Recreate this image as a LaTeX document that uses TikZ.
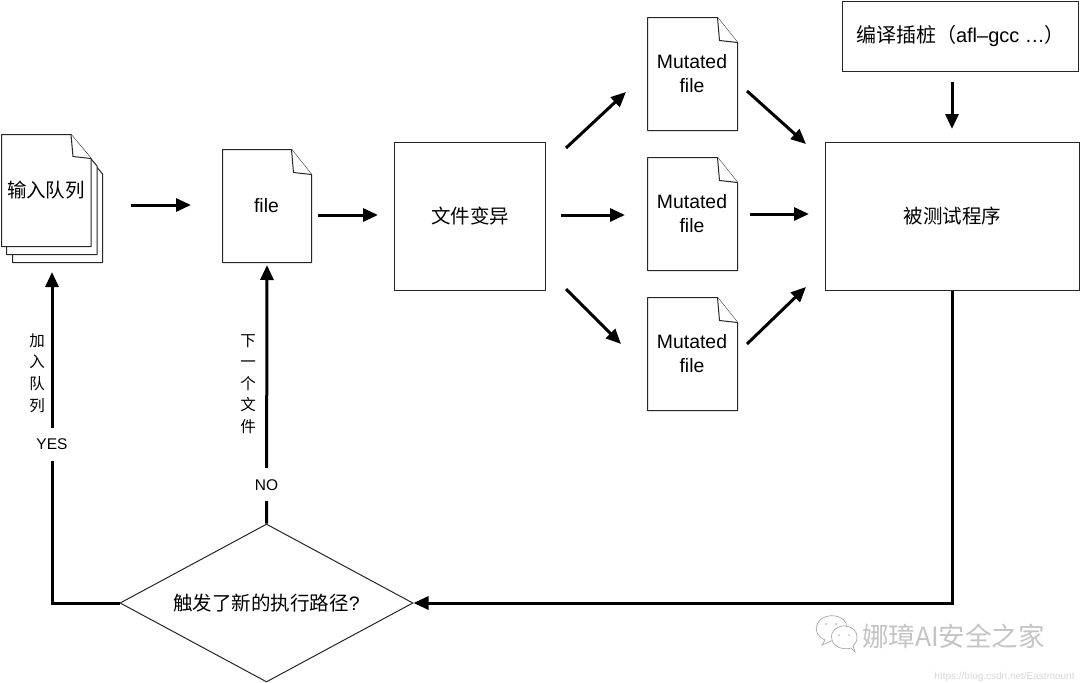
\documentclass[tikz,border=0pt]{standalone}
\usepackage{fontspec}
\setmainfont{Liberation Sans}
\newfontfamily\cjkf{Noto Sans CJK SC}
\usetikzlibrary{arrows.meta,shapes.geometric}
\definecolor{ink}{HTML}{262626}
\definecolor{wm}{HTML}{C4C4C4}
\tikzset{
  boxnode/.style={draw=ink,line width=1pt,fill=white,rectangle,inner sep=0pt,font=\fontsize{19.5}{23}\selectfont\cjkf,align=center},
  docnode/.style={rectangle,inner sep=0pt,font=\fontsize{19.4}{24}\selectfont,align=center},
  docline/.style={draw=ink,line width=1pt,line join=round,fill=white},
  flow/.style={line width=3pt,draw=black,-{Triangle[length=15pt,width=13pt]},shorten >=0pt},
  sidetext/.style={inner sep=0pt,font=\fontsize{15.5}{21.6}\selectfont\cjkf,align=center},
  gatelabel/.style={fill=white,inner sep=0pt,minimum height=33pt,minimum width=38pt,font=\fontsize{15.5}{18}\selectfont},
}
% x0 y0 x1 y1 fold-width fold-height
\newcommand{\docoutline}[6]{%
  \path[docline] (#1,#2) -- (#3-#5,#2) -- (#3,#2+#6) -- (#3,#4) -- (#1,#4) -- cycle;
  \path[docline] (#3-#5,#2) -- (#3-#5+2,#2+#6-2) -- (#3,#2+#6);
}
\begin{document}
\begin{tikzpicture}[x=1pt,y=-1pt]
\useasboundingbox[fill=white] (0,0) rectangle (1080,683);

% input queue stack
\path[docline] (12.5,150) -- (83,150) -- (102.5,174) -- (102.5,262.5) -- (12.5,262.5) -- cycle;
\path[docline] (6.5,142) -- (77,142) -- (97,166) -- (97,254.5) -- (6.5,254.5) -- cycle;
\docoutline{1.5}{134.5}{91}{246.5}{20}{24}
\node[docnode,font=\fontsize{19.5}{24}\selectfont\cjkf] (queue) at (46,190) {输入队列};

% current file
\docoutline{222.5}{149.5}{311.5}{262.5}{20}{25}
\node[docnode] (file) at (266.5,206) {file};

% mutate box
\node[boxnode,minimum width=151pt,minimum height=148pt] (mutate) at (470,216.5) {文件变异};

% mutated files
\docoutline{647.5}{17.5}{737.5}{130.5}{20}{25}
\node[docnode] (m1) at (692,74) {Mutated\\file};
\docoutline{647.5}{157.5}{737.5}{270.5}{20}{25}
\node[docnode] (m2) at (692,214) {Mutated\\file};
\docoutline{647.5}{297.5}{737.5}{410.5}{20}{25}
\node[docnode] (m3) at (692,354) {Mutated\\file};

% target and instrumentation
\node[boxnode,minimum width=254pt,minimum height=148pt] (target) at (952.5,216.5) {被测试程序};
\node[boxnode,minimum width=236pt,minimum height=70pt,font=\fontsize{20}{24}\selectfont] (instr) at (960.5,36.5) {{\cjkf 编译插桩（}afl–gcc …{\cjkf ）}};

% decision
\node[diamond,aspect=1.86,draw=ink,line width=1pt,fill=white,inner sep=0pt,minimum width=293pt,minimum height=158pt,font=\fontsize{19.5}{23}\selectfont] (decide) at (266.5,603) {{\cjkf 触发了新的执行路径}?};

% connector ends
\coordinate (q0) at (131,205);   \coordinate (q1) at (191,205);
\coordinate (f0) at (318,215);   \coordinate (f1) at (378,215);
\coordinate (a0) at (566,148);   \coordinate (a1) at (626,92);
\coordinate (b0) at (561,215);   \coordinate (b1) at (625,215);
\coordinate (c0) at (566,289);   \coordinate (c1) at (621,344);
\coordinate (d0) at (747,91);    \coordinate (d1) at (806,144);
\coordinate (e0) at (750,214);   \coordinate (e1) at (809,214);
\coordinate (g0) at (747,344);   \coordinate (g1) at (806,287);
\coordinate (i0) at (952,82);    \coordinate (i1) at (952,129);
\coordinate (qin) at (52,272);   \coordinate (fin) at (267,265);

\draw[flow] (q0) -- (q1);
\draw[flow] (f0) -- (f1);
\draw[flow] (a0) -- (a1);
\draw[flow] (b0) -- (b1);
\draw[flow] (c0) -- (c1);
\draw[flow] (d0) -- (d1);
\draw[flow] (e0) -- (e1);
\draw[flow] (g0) -- (g1);
\draw[flow] (i0) -- (i1);

\draw[flow] (target.south) |- (decide.east);
\draw[flow] (decide.west) -| node[pos=0.74,gatelabel] (yes) {YES} (qin);
\draw[flow] (decide.north) -- node[pos=0.15,gatelabel] (no) {NO} (fin);

\node[sidetext] (addq) at (37,373) {加\\入\\队\\列};
\node[sidetext] (nextf) at (248,384) {下\\一\\个\\文\\件};

% watermark
\begin{scope}[draw=wm!85!black,line width=0.7pt,fill=white]
  \path[draw,fill] (822,645) -- (825,640) .. controls (816,636) and (815,628) .. (817,625)
    .. controls (820,614) and (840,612) .. (846,623) .. controls (848,630) and (842,640) .. (831,641) -- cycle;
  \path[draw,fill] (855,652) -- (851,648) .. controls (845,650) and (834,648) .. (832,640)
    .. controls (829,630) and (840,625) .. (845,626) .. controls (852,626) and (858,632) .. (857,638)
    .. controls (857,642) and (854,645) .. (853,646) -- cycle;
  \fill[wm] (826,624) circle (1.1) (836,624) circle (1.1) (839,635) circle (1) (849,635) circle (1);
\end{scope}
\node[inner sep=0pt,text=wm,font=\fontsize{26.5}{30}\selectfont\cjkf] (brand) at (953.5,636) {娜璋AI安全之家};
\node[inner sep=0pt,text=black!15,font=\fontsize{10}{12}\selectfont] (url) at (1004.5,677) {https://blog.csdn.net/Eastmount};
\end{tikzpicture}
\end{document}
